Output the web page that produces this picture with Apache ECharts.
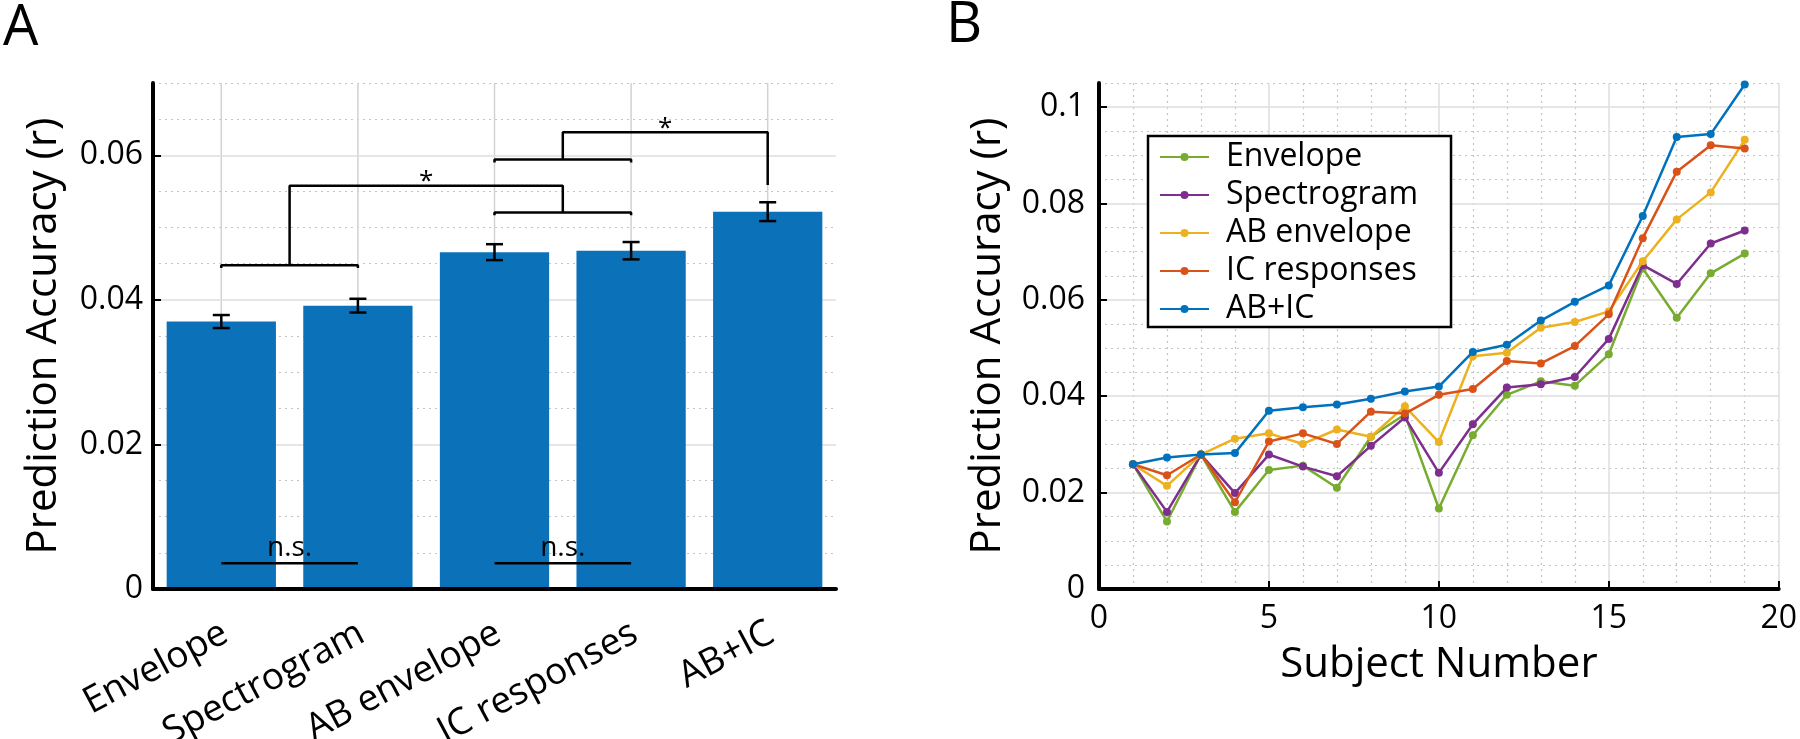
<!DOCTYPE html>
<html>
<head>
<meta charset="utf-8">
<style>html,body{margin:0;padding:0;background:#fff;}#chart{width:1800px;height:739px;}</style>
<script src="https://cdn.jsdelivr.net/npm/echarts@6/dist/echarts.min.js"></script>
</head>
<body>
<div id="chart"></div>
<script>
// ---------- Panel A data ----------
const categories = ['Envelope', 'Spectrogram', 'AB envelope', 'IC responses', 'AB+IC'];
const barMeans = [0.0370, 0.0392, 0.0466, 0.0468, 0.0522];
const barErrors = [0.0009, 0.00095, 0.0011, 0.0012, 0.0013];
const yTicksA = [0, 0.02, 0.04, 0.06];
// significance brackets: [category position, value]
const bracketEnvSpec = [[0, 0.0444], [0, 0.0448], [1, 0.0448], [1, 0.0444]];
const bracketAbIcLow = [[2, 0.0517], [2, 0.0521], [3, 0.0521], [3, 0.0517]];
const bracketStar1 = [[0.5, 0.0448], [0.5, 0.0558], [2.5, 0.0558], [2.5, 0.0521]];
const bracketAbIcHigh = [[2, 0.0590], [2, 0.0594], [3, 0.0594], [3, 0.0590]];
const bracketStar2 = [[2.5, 0.0594], [2.5, 0.0632], [4, 0.0632], [4, 0.0559]];
const nsLine1 = [[0, 0.00356], [1, 0.00356]];
const nsLine2 = [[2, 0.00356], [3, 0.00356]];
const annotations = [[1.5, 0.0572, '*'], [3.25, 0.0645, '*'], [0.5, 0.0057, 'n.s.'], [2.5, 0.0057, 'n.s.']];

// ---------- Panel B data ----------
const subjects = [1, 2, 3, 4, 5, 6, 7, 8, 9, 10, 11, 12, 13, 14, 15, 16, 17, 18, 19];
const envelope    = [0.0259, 0.0140, 0.0279, 0.0160, 0.0247, 0.0256, 0.0210, 0.0316, 0.0362, 0.0167, 0.0319, 0.0403, 0.0431, 0.0422, 0.0487, 0.0665, 0.0563, 0.0655, 0.0696];
const spectrogram = [0.0259, 0.0160, 0.0279, 0.0199, 0.0279, 0.0254, 0.0234, 0.0297, 0.0356, 0.0241, 0.0342, 0.0418, 0.0425, 0.0440, 0.0519, 0.0672, 0.0633, 0.0717, 0.0744];
const abEnvelope  = [0.0259, 0.0214, 0.0279, 0.0312, 0.0323, 0.0301, 0.0331, 0.0316, 0.0379, 0.0305, 0.0483, 0.0490, 0.0542, 0.0554, 0.0576, 0.0680, 0.0767, 0.0823, 0.0932];
const icResponses = [0.0259, 0.0236, 0.0279, 0.0180, 0.0306, 0.0323, 0.0301, 0.0368, 0.0364, 0.0403, 0.0415, 0.0473, 0.0468, 0.0504, 0.0570, 0.0728, 0.0866, 0.0921, 0.0914];
const abIc        = [0.0259, 0.0273, 0.0279, 0.0282, 0.0370, 0.0377, 0.0383, 0.0395, 0.0410, 0.0420, 0.0492, 0.0507, 0.0557, 0.0596, 0.0630, 0.0774, 0.0938, 0.0944, 0.1047];
const seriesNames = ['Envelope', 'Spectrogram', 'AB envelope', 'IC responses', 'AB+IC'];
const seriesColors = ['#77ac30', '#7e2f8e', '#edb120', '#d95319', '#0072bd'];
const seriesValues = [envelope, spectrogram, abEnvelope, icResponses, abIc];

const FONT = 'Open Sans';
const MAJ = '#dedede';
const MIN = '#c4c4c4';
const T = 'rgba(0,0,0,0)';
const LABEL_ANGLE = 28 * Math.PI / 180;

function bracket(pts, name) {
  return {
    name: name, type: 'line', xAxisIndex: 1, yAxisIndex: 0, z: 5, silent: true,
    data: pts, symbol: 'none', animation: false,
    lineStyle: { color: '#000', width: 2.5 }
  };
}

const lineSeries = seriesNames.map((n, k) => ({
  name: n, type: 'line', xAxisIndex: 2, yAxisIndex: 2,
  data: subjects.map((s, i) => [s, seriesValues[k][i]]),
  symbol: 'circle', symbolSize: 8, showSymbol: true,
  itemStyle: { color: seriesColors[k] },
  lineStyle: { color: seriesColors[k], width: 2.5 },
  z: 3 + k * 0.01
}));

const option = {
  animation: false,
  textStyle: { fontFamily: FONT },
  grid: [
    { left: 153, top: 83, width: 683, height: 506 },
    { left: 1099, top: 83, width: 681, height: 506 }
  ],
  xAxis: [
    { gridIndex: 0, type: 'category', data: categories, boundaryGap: true, z: 10,
      axisLine: { onZero: false, lineStyle: { color: '#000', width: 4 } },
      axisTick: { show: false },
      axisLabel: { show: false },
      splitLine: { show: false } },
    { gridIndex: 0, type: 'value', min: -0.5, max: 4.5, show: false },
    { gridIndex: 1, type: 'value', min: 0, max: 20, interval: 5, z: 2,
      axisLine: { onZero: false, lineStyle: { color: '#000', width: 4 } },
      axisTick: { inside: true, length: 8, lineStyle: { color: '#000', width: 2 } },
      axisLabel: { fontSize: 32, color: '#000', margin: 14, fontFamily: FONT },
      splitLine: { show: true, lineStyle: { color: MAJ, width: 1.5 } },
      name: 'Subject Number', nameLocation: 'middle', nameGap: 55,
      nameTextStyle: { fontSize: 42, color: '#000', fontFamily: FONT } },
    { gridIndex: 1, type: 'value', min: 0, max: 20, interval: 1, z: 1,
      axisLine: { show: false }, axisTick: { show: false }, axisLabel: { show: false },
      splitLine: { show: true, lineStyle: { color: [T, MIN, MIN, MIN, MIN], type: [2, 4], width: 1.2 } } }
  ],
  yAxis: [
    { gridIndex: 0, type: 'value', min: 0, max: 0.07, interval: 0.02, z: 2,
      axisLine: { show: true, onZero: false, lineStyle: { color: '#000', width: 4 } },
      axisTick: { show: true, inside: true, length: 8, lineStyle: { color: '#000', width: 2 }, customValues: yTicksA },
      axisLabel: { fontSize: 32, color: '#000', margin: 10, showMaxLabel: false, fontFamily: FONT },
      splitLine: { show: true, lineStyle: { color: [MAJ, MAJ, MAJ, MAJ, T], width: 1.5 } },
      name: 'Prediction Accuracy (r)', nameLocation: 'middle', nameGap: 88,
      nameTextStyle: { fontSize: 42, color: '#000', fontFamily: FONT } },
    { gridIndex: 0, type: 'value', min: 0, max: 0.07, interval: 0.005, z: 1,
      axisLine: { show: false }, axisTick: { show: false }, axisLabel: { show: false },
      splitLine: { show: true, lineStyle: { color: [T, MIN, MIN, MIN], type: [2, 4], width: 1.2 } } },
    { gridIndex: 1, type: 'value', min: 0, max: 0.105, interval: 0.02, z: 2,
      axisLine: { show: true, onZero: false, lineStyle: { color: '#000', width: 4 } },
      axisTick: { show: true, inside: true, length: 8, lineStyle: { color: '#000', width: 2 } },
      axisLabel: { fontSize: 32, color: '#000', margin: 14, showMaxLabel: false, fontFamily: FONT },
      splitLine: { show: true, lineStyle: { color: [MAJ, MAJ, MAJ, MAJ, MAJ, MAJ, T], width: 1.5 } },
      name: 'Prediction Accuracy (r)', nameLocation: 'middle', nameGap: 90,
      nameTextStyle: { fontSize: 42, color: '#000', fontFamily: FONT } },
    { gridIndex: 1, type: 'value', min: 0, max: 0.105, interval: 0.005, z: 1,
      axisLine: { show: false }, axisTick: { show: false }, axisLabel: { show: false },
      splitLine: { show: true, lineStyle: { color: [T, MIN, MIN, MIN], type: [2, 4], width: 1.2 } } }
  ],
  legend: {
    data: seriesNames, orient: 'vertical', left: 1148, top: 136,
    itemWidth: 49, itemHeight: 10, itemGap: 6,
    padding: [5, 33, 2, 11],
    borderColor: '#000', borderWidth: 2.5, backgroundColor: '#fff',
    textStyle: { fontSize: 32, color: '#000', lineHeight: 30, fontFamily: FONT, padding: [0, 0, 0, 12] },
    selectedMode: false
  },
  graphic: [
    { type: 'text', left: 3, top: 1, style: { text: 'A', fontSize: 56, fontFamily: FONT, fill: '#000' } },
    { type: 'text', left: 946, top: -2, style: { text: 'B', fontSize: 56, fontFamily: FONT, fill: '#000' } }
  ],
  series: [
    { name: 'catgrid', type: 'custom', xAxisIndex: 0, yAxisIndex: 0, z: 1, silent: true,
      data: categories.map((c, i) => [i, 0]),
      renderItem: (params, api) => {
        const b = api.coord([api.value(0), 0]);
        const t = api.coord([api.value(0), 0.07]);
        return { type: 'line', shape: { x1: b[0], y1: b[1], x2: t[0], y2: t[1] },
                 style: { stroke: '#d2d2d2', lineWidth: 1.5 } };
      } },
    { name: 'catlabels', type: 'custom', xAxisIndex: 0, yAxisIndex: 0, z: 6, silent: true,
      data: categories.map((c, i) => [i, 0]),
      renderItem: (params, api) => {
        const p = api.coord([api.value(0), 0]);
        return { type: 'text', x: p[0] + 4, y: p[1] + 42, rotation: LABEL_ANGLE,
                 style: { text: categories[params.dataIndex], fontSize: 37, fontFamily: FONT, fill: '#000',
                          align: 'right', verticalAlign: 'middle' } };
      } },
    { name: 'means', type: 'bar', xAxisIndex: 0, yAxisIndex: 0, data: barMeans,
      barWidth: '80%', itemStyle: { color: '#0b72ba' }, z: 2 },
    { name: 'errors', type: 'custom', xAxisIndex: 0, yAxisIndex: 0, z: 4, silent: true,
      data: barMeans.map((m, i) => [i, m, barErrors[i]]),
      encode: { x: 0, y: 1 },
      renderItem: (params, api) => {
        const i = api.value(0), m = api.value(1), e = api.value(2);
        const lo = api.coord([i, m - e]);
        const hi = api.coord([i, m + e]);
        const w = 8.5;
        const st = { stroke: '#000', lineWidth: 2.5 };
        return { type: 'group', children: [
          { type: 'line', shape: { x1: lo[0], y1: lo[1], x2: hi[0], y2: hi[1] }, style: st },
          { type: 'line', shape: { x1: lo[0] - w, y1: lo[1], x2: lo[0] + w, y2: lo[1] }, style: st },
          { type: 'line', shape: { x1: hi[0] - w, y1: hi[1], x2: hi[0] + w, y2: hi[1] }, style: st }
        ] };
      } },
    bracket(bracketEnvSpec, 'b1'),
    bracket(bracketAbIcLow, 'b2'),
    bracket(bracketStar1, 'b3'),
    bracket(bracketAbIcHigh, 'b4'),
    bracket(bracketStar2, 'b5'),
    bracket(nsLine1, 'b6'),
    bracket(nsLine2, 'b7'),
    { name: 'annot', type: 'custom', xAxisIndex: 1, yAxisIndex: 0, z: 6, silent: true,
      data: annotations.map(a => [a[0], a[1]]),
      encode: { x: 0, y: 1 },
      renderItem: (params, api) => {
        const p = api.coord([api.value(0), api.value(1)]);
        const txt = annotations[params.dataIndex][2];
        const star = txt === '*';
        return { type: 'text', x: p[0], y: p[1] + (star ? 6 : 0),
                 style: { text: txt, fontSize: star ? 26 : 28, fontFamily: FONT, fill: '#000',
                          align: 'center', verticalAlign: 'middle' } };
      } }
  ].concat(lineSeries)
};

const chart = echarts.init(document.getElementById('chart'), null, { renderer: 'canvas' });
chart.setOption(option);
</script>
</body>
</html>
